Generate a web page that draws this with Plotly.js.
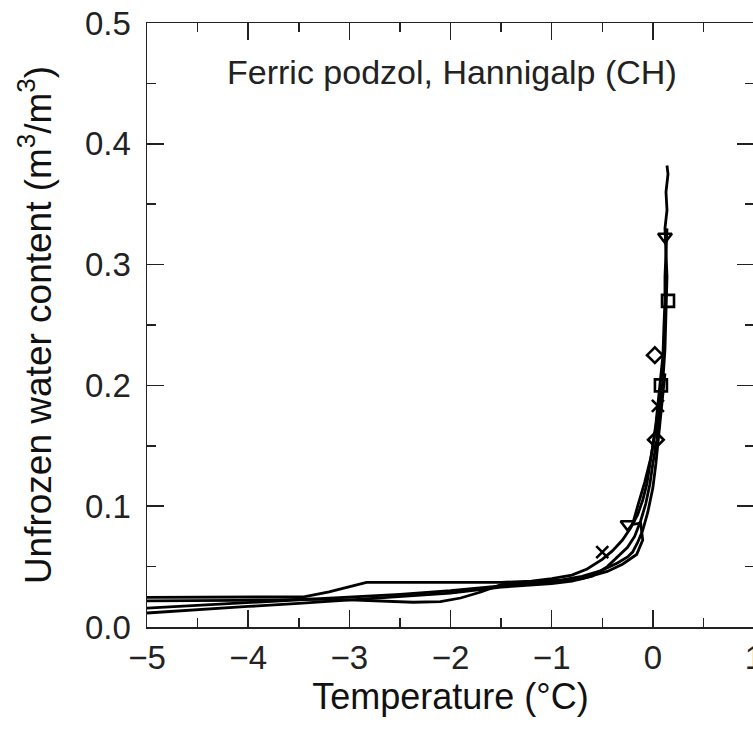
<!DOCTYPE html>
<html>
<head>
<meta charset="utf-8">
<script src="https://cdn.plot.ly/plotly-3.0.1.min.js"></script>
<style>
html, body { margin: 0; padding: 0; overflow: hidden; background: #fff; }
#chart { width: 754px; height: 734px; }
</style>
</head>
<body>
<div id="chart"></div>
<script>
// Temperature (°C) and unfrozen water content (m3/m3), four measured branches
const temp1 = [-5, -4.5, -4.1, -3.7, -3.45, -3.2, -3.0, -2.83, -2.5, -2.0, -1.5, -1.2, -1.0, -0.8, -0.65, -0.5, -0.4, -0.3, -0.22, -0.15, -0.1, -0.06, -0.03, 0.0, 0.03, 0.05, 0.08, 0.1, 0.11, 0.12, 0.12, 0.13, 0.12, 0.14, 0.13, 0.15, 0.14];
const theta1 = [0.0245, 0.0245, 0.0245, 0.0245, 0.025, 0.029, 0.033, 0.037, 0.037, 0.037, 0.037, 0.038, 0.040, 0.043, 0.048, 0.056, 0.063, 0.072, 0.082, 0.093, 0.105, 0.118, 0.133, 0.15, 0.168, 0.185, 0.205, 0.225, 0.25, 0.27, 0.29, 0.31, 0.33, 0.345, 0.36, 0.375, 0.382];

const temp2 = [-5, -4.5, -4.1, -3.7, -3.4, -3.0, -2.6, -2.37, -2.1, -1.9, -1.7, -1.5, -1.2, -0.9, -0.7, -0.5, -0.35, -0.25, -0.2, -0.15, -0.1, -0.05, 0.0, 0.03, 0.06, 0.1, 0.12];
const theta2 = [0.0217, 0.0217, 0.022, 0.0225, 0.023, 0.0225, 0.021, 0.0205, 0.021, 0.024, 0.029, 0.035, 0.037, 0.039, 0.042, 0.047, 0.053, 0.058, 0.062, 0.07, 0.08, 0.095, 0.115, 0.135, 0.16, 0.19, 0.21];

const temp3 = [-5, -4.5, -4.0, -3.5, -3.0, -2.5, -2.0, -1.5, -1.0, -0.7, -0.45, -0.3, -0.16, -0.1, -0.12, -0.2, -0.15, -0.08, -0.02, 0.03, 0.08];
const theta3 = [0.0157, 0.018, 0.0205, 0.0225, 0.025, 0.027, 0.030, 0.034, 0.037, 0.040, 0.046, 0.052, 0.060, 0.072, 0.086, 0.085, 0.100, 0.120, 0.140, 0.165, 0.200];

const temp4 = [-5, -4.5, -4.0, -3.5, -3.0, -2.5, -2.0, -1.5, -1.0, -0.8, -0.6, -0.45, -0.35, -0.25, -0.18, -0.12, -0.07, -0.03, 0.0, 0.04, 0.07, 0.1, 0.12, 0.13, 0.14, 0.13, 0.14];
const theta4 = [0.0116, 0.0145, 0.017, 0.0195, 0.0225, 0.025, 0.028, 0.033, 0.036, 0.038, 0.042, 0.050, 0.058, 0.066, 0.075, 0.088, 0.102, 0.118, 0.135, 0.155, 0.18, 0.205, 0.23, 0.26, 0.29, 0.31, 0.33];

// Occasional open symbols along the curves
const markTemp = [0.12, 0.15, 0.02, 0.05, 0.03, -0.25, -0.5, 0.08];
const markTheta = [0.323, 0.27, 0.225, 0.183, 0.155, 0.085, 0.062, 0.2];
const markSymbols = ['triangle-down-open', 'square-open', 'diamond-open', 'x-thin-open', 'diamond-open', 'triangle-down-open', 'x-thin-open', 'square-open'];

const xTicks = [-5, -4, -3, -2, -1, 0, 1];
const yTicks = [0.0, 0.1, 0.2, 0.3, 0.4, 0.5];

const FONT = '"Liberation Sans", Arial, Helvetica, sans-serif';
const lineStyle = {color: '#000', width: 2.8};

const data = [
  {x: temp1, y: theta1, mode: 'lines', line: lineStyle},
  {x: temp2, y: theta2, mode: 'lines', line: lineStyle},
  {x: temp3, y: theta3, mode: 'lines', line: lineStyle},
  {x: temp4, y: theta4, mode: 'lines', line: lineStyle},
  {x: markTemp, y: markTheta, mode: 'markers',
   marker: {symbol: markSymbols, size: 12, color: '#000', line: {color: '#000', width: 2.6}}}
];

const axisCommon = {
  showline: true, linecolor: '#222', linewidth: 1.5,
  mirror: 'allticks', ticks: 'inside', tickcolor: '#222', tickwidth: 1.5,
  showgrid: false, zeroline: false, ticklabeloverflow: 'allow',
  tickfont: {family: FONT, size: 33, color: '#222'}
};

const layout = {
  width: 754, height: 734,
  margin: {l: 147, r: 0, t: 23, b: 107},
  paper_bgcolor: '#fff', plot_bgcolor: '#fff',
  showlegend: false,
  xaxis: Object.assign({}, axisCommon, {
    range: [-5, 1], tickvals: xTicks, ticktext: xTicks.map(v => v < 0 ? '\u2212' + Math.abs(v) : String(v)),
    ticklen: 17, ticklabelstandoff: 1,
    minor: {dtick: 0.5, ticks: 'inside', ticklen: 9, tickcolor: '#222', tickwidth: 1.5, showgrid: false},
    title: {text: 'Temperature (\u00B0C)', font: {family: FONT, size: 36, color: '#111'}, standoff: 0}
  }),
  yaxis: Object.assign({}, axisCommon, {
    range: [0, 0.5], tickvals: yTicks, ticktext: yTicks.map(v => v.toFixed(1)),
    ticklen: 17, ticklabelstandoff: 8,
    minor: {dtick: 0.05, ticks: 'inside', ticklen: 9, tickcolor: '#222', tickwidth: 1.5, showgrid: false},
    title: {text: 'Unfrozen water content (m<sup>3</sup>/m<sup>3</sup>)', font: {family: FONT, size: 37, color: '#111'}, standoff: 22}
  }),
  annotations: [{
    text: 'Ferric podzol, Hannigalp (CH)', xref: 'paper', yref: 'paper',
    x: 0.502, y: 0.919, xanchor: 'center', yanchor: 'middle', showarrow: false,
    font: {family: FONT, size: 34, color: '#222'}
  }]
};

Plotly.newPlot('chart', data, layout, {staticPlot: true, displayModeBar: false});
</script>
</body>
</html>
